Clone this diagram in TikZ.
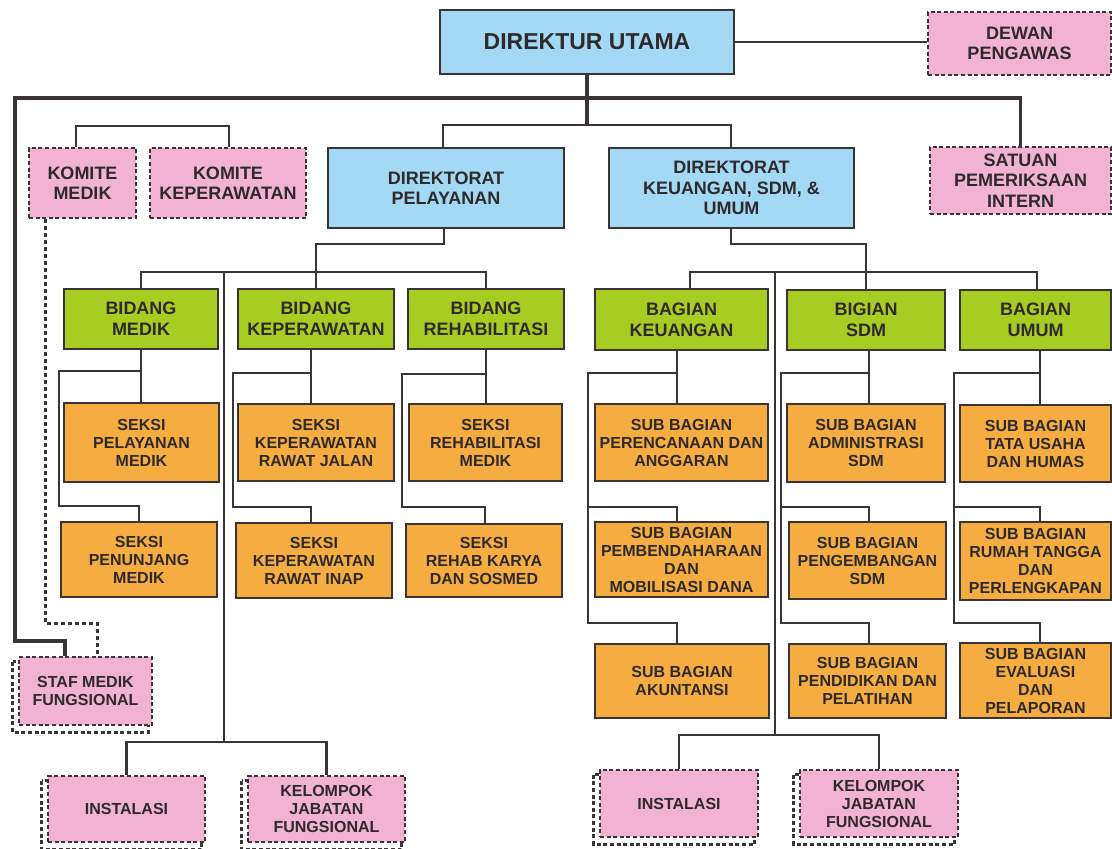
\documentclass[tikz,border=0pt]{standalone}
\usepackage{fontspec}
\setmainfont{Liberation Sans}
\usetikzlibrary{backgrounds}
\definecolor{cblue}{HTML}{A3D9F5}
\definecolor{cgreen}{HTML}{A9CC22}
\definecolor{corange}{HTML}{F5AD42}
\definecolor{cpink}{HTML}{F1B3D1}
\definecolor{lc}{HTML}{3A3436}
\definecolor{tc}{HTML}{2E2A2B}
\tikzset{
  box/.style={draw=lc, line width=2.8pt, inner sep=0pt, align=center, text=tc},
  bluebox/.style={box, fill=cblue, font=\fontsize{18}{20.5}\selectfont\bfseries},
  greenbox/.style={box, fill=cgreen, font=\fontsize{18}{21}\selectfont\bfseries},
  orangebox/.style={box, fill=corange, font=\fontsize{16}{18}\selectfont\bfseries},
  pinkbox/.style={box, fill=cpink, line width=2.6pt, dash pattern=on 4pt off 2.6pt, font=\fontsize{18}{20.5}\selectfont\bfseries},
  pinksmall/.style={pinkbox, font=\fontsize{16}{18}\selectfont\bfseries},
  shadowbox/.style={draw=lc, line width=2.6pt, dash pattern=on 4pt off 2.6pt},
  conn/.style={draw=lc, line width=2.8pt},
  bus/.style={draw=lc, line width=3.4pt},
  dconn/.style={draw=lc, line width=3pt, dash pattern=on 4pt off 3pt},
}
\begin{document}
\begin{tikzpicture}[x=1pt, y=-1pt]
\useasboundingbox (0,0) rectangle (1112,849);
% top level
\node[bluebox, minimum width=294pt, minimum height=64pt, font=\fontsize{23}{26}\selectfont\bfseries] (du) at (587,42) {DIREKTUR UTAMA};
\node[pinkbox, minimum width=183pt, minimum height=63pt] (dewan) at (1019.5,43.5) {DEWAN\\PENGAWAS};
\node[pinkbox, minimum width=181pt, minimum height=67pt] (satuan) at (1020.5,180.5) {SATUAN\\PEMERIKSAAN\\INTERN};
\node[pinkbox, minimum width=107pt, minimum height=70pt] (km) at (82.5,183) {KOMITE\\MEDIK};
\node[pinkbox, minimum width=156pt, minimum height=70pt] (kk) at (228,183) {KOMITE\\KEPERAWATAN};
\node[bluebox, minimum width=236pt, minimum height=80pt] (dp) at (446,188) {DIREKTORAT\\PELAYANAN};
\node[bluebox, minimum width=245pt, minimum height=80pt] (dk) at (731.5,188) {DIREKTORAT\\KEUANGAN, SDM, \&\\UMUM};
% bidang / bagian
\node[greenbox, minimum width=154pt, minimum height=60pt] (bm) at (141,319) {BIDANG\\MEDIK};
\node[greenbox, minimum width=156pt, minimum height=60pt] (bk) at (316,319) {BIDANG\\KEPERAWATAN};
\node[greenbox, minimum width=156pt, minimum height=60pt] (br) at (486,319) {BIDANG\\REHABILITASI};
\node[greenbox, minimum width=173pt, minimum height=61pt] (bku) at (681.5,319.5) {BAGIAN\\KEUANGAN};
\node[greenbox, minimum width=158pt, minimum height=60pt] (bsdm) at (866,320) {BIGIAN\\SDM};
\node[greenbox, minimum width=151pt, minimum height=60pt] (bum) at (1035.5,320) {BAGIAN\\UMUM};
% seksi
\node[orangebox, minimum width=155pt, minimum height=79pt] (s11) at (141.5,442.5) {SEKSI\\PELAYANAN\\MEDIK};
\node[orangebox, minimum width=156pt, minimum height=75pt] (s12) at (139,559.5) {SEKSI\\PENUNJANG\\MEDIK};
\node[orangebox, minimum width=156pt, minimum height=77pt] (s21) at (316,442.5) {SEKSI\\KEPERAWATAN\\RAWAT JALAN};
\node[orangebox, minimum width=156pt, minimum height=75pt] (s22) at (314,560.5) {SEKSI\\KEPERAWATAN\\RAWAT INAP};
\node[orangebox, minimum width=153pt, minimum height=77pt] (s31) at (485.5,442.5) {SEKSI\\REHABILITASI\\MEDIK};
\node[orangebox, minimum width=156pt, minimum height=73pt] (s32) at (484,560.5) {SEKSI\\REHAB KARYA\\DAN SOSMED};
% sub bagian
\node[orangebox, minimum width=173pt, minimum height=77pt] (sb11) at (681.5,442.5) {SUB BAGIAN\\PERENCANAAN DAN\\ANGGARAN};
\node[orangebox, minimum width=173pt, minimum height=75pt] (sb12) at (681.5,559.5) {SUB BAGIAN\\PEMBENDAHARAAN\\DAN\\MOBILISASI DANA};
\node[orangebox, minimum width=174pt, minimum height=74pt] (sb13) at (682,681) {SUB BAGIAN\\AKUNTANSI};
\node[orangebox, minimum width=158pt, minimum height=78pt] (sb21) at (866,443) {SUB BAGIAN\\ADMINISTRASI\\SDM};
\node[orangebox, minimum width=157pt, minimum height=77pt] (sb22) at (867.5,560.5) {SUB BAGIAN\\PENGEMBANGAN\\SDM};
\node[orangebox, minimum width=157pt, minimum height=74pt] (sb23) at (867.5,681) {SUB BAGIAN\\PENDIDIKAN DAN\\PELATIHAN};
\node[orangebox, minimum width=151pt, minimum height=77pt] (sb31) at (1035.5,443.5) {SUB BAGIAN\\TATA USAHA\\DAN HUMAS};
\node[orangebox, minimum width=151pt, minimum height=78pt] (sb32) at (1035.5,561) {SUB BAGIAN\\RUMAH TANGGA\\DAN\\PERLENGKAPAN};
\node[orangebox, minimum width=151pt, minimum height=75pt] (sb33) at (1035.5,680.5) {SUB BAGIAN\\EVALUASI\\DAN\\PELAPORAN};
% bottom pink
\node[pinksmall, minimum width=133pt, minimum height=68pt] (staf) at (85.5,691) {STAF MEDIK\\FUNGSIONAL};
\node[pinksmall, minimum width=157pt, minimum height=66pt] (inst1) at (126.5,809) {INSTALASI};
\node[pinksmall, minimum width=157pt, minimum height=66pt] (kel1) at (326.5,809) {KELOMPOK\\JABATAN\\FUNGSIONAL};
\node[pinksmall, minimum width=158pt, minimum height=67pt] (inst2) at (679,803.5) {INSTALASI};
\node[pinksmall, minimum width=158pt, minimum height=67pt] (kel2) at (879,803.5) {KELOMPOK\\JABATAN\\FUNGSIONAL};
\begin{scope}[on background layer]
  \foreach \n in {staf,inst1,kel1,inst2,kel2}
    \draw[shadowbox] ([shift={(-5,6)}]\n.north west) rectangle ([shift={(-5,6)}]\n.south east);
\end{scope}
% named junctions
\coordinate (lb) at (224,272);
\coordinate (lbe) at (224,742);
\coordinate (rb) at (775,272);
\coordinate (rbe) at (775,735);
% top connectors
\draw[conn] (du.east) -- (du.east -| dewan.west);
\draw[bus] (satuan.north) |- (15,98) |- (65,641) -- (staf.north -| 65,0);
\draw[bus] (du.south) -- (du.south |- 0,125);
\draw[conn] (dp.north -| 443,0) -- (443,125) -- (731,125) -- (dk.north -| 731,0);
\draw[conn] (km.north -| 76,0) -- (76,126) -- (229,126) -- (kk.north -| 229,0);
\draw[dconn] (km.south -| 45,0) -- (45,623) -- (97,623) -- (staf.north -| 97,0);
% direktorat pelayanan
\draw[conn] (dp.south -| 444,0) -- (444,244) -| (bk.north);
\draw[conn] (bm.north) -- (bm.north |- 0,272) -- (br.north |- 0,272) -- (br.north);
\draw[conn] (lb) -- (lbe);
\draw[conn] (inst1.north) |- (lbe) -| (kel1.north);
% direktorat keuangan
\draw[conn] (dk.south -| 731,0) -- (731,244) -| (bsdm.north);
\draw[conn] (bku.north -| 690,0) -- (690,272) -- (1037,272) -- (bum.north -| 1037,0);
\draw[conn] (rb) -- (rbe);
\draw[conn] (inst2.north) |- (rbe) -| (kel2.north);
% bidang medik
\draw[conn] (bm.south) -- (bm.south |- s11.north);
\draw[conn] (141,371) -| (59,506) -| (s12.north);
% bidang keperawatan
\draw[conn] (bk.south -| 311,0) -- (s21.north -| 311,0);
\draw[conn] (311,373) -| (233,507) -| (s22.north -| 311,0);
% bidang rehab
\draw[conn] (br.south) -- (br.south |- s31.north);
\draw[conn] (486,374) -| (402,507) -| (s32.north -| 485,0);
% bagian keuangan
\draw[conn] (bku.south -| 677,0) -- (sb11.north -| 677,0);
\draw[conn] (677,373) -| (588,623) -| (sb13.north -| 677,0);
\draw[conn] (588,507) -| (sb12.north -| 677,0);
% bagian sdm
\draw[conn] (bsdm.south -| 869,0) -- (sb21.north -| 869,0);
\draw[conn] (869,373) -| (781,623) -| (sb23.north -| 869,0);
\draw[conn] (781,507) -| (sb22.north -| 869,0);
% bagian umum
\draw[conn] (bum.south -| 1040,0) -- (sb31.north -| 1040,0);
\draw[conn] (1040,373) -| (954,623) -| (sb33.north -| 1040,0);
\draw[conn] (954,507) -| (sb32.north -| 1040,0);
\end{tikzpicture}
\end{document}
